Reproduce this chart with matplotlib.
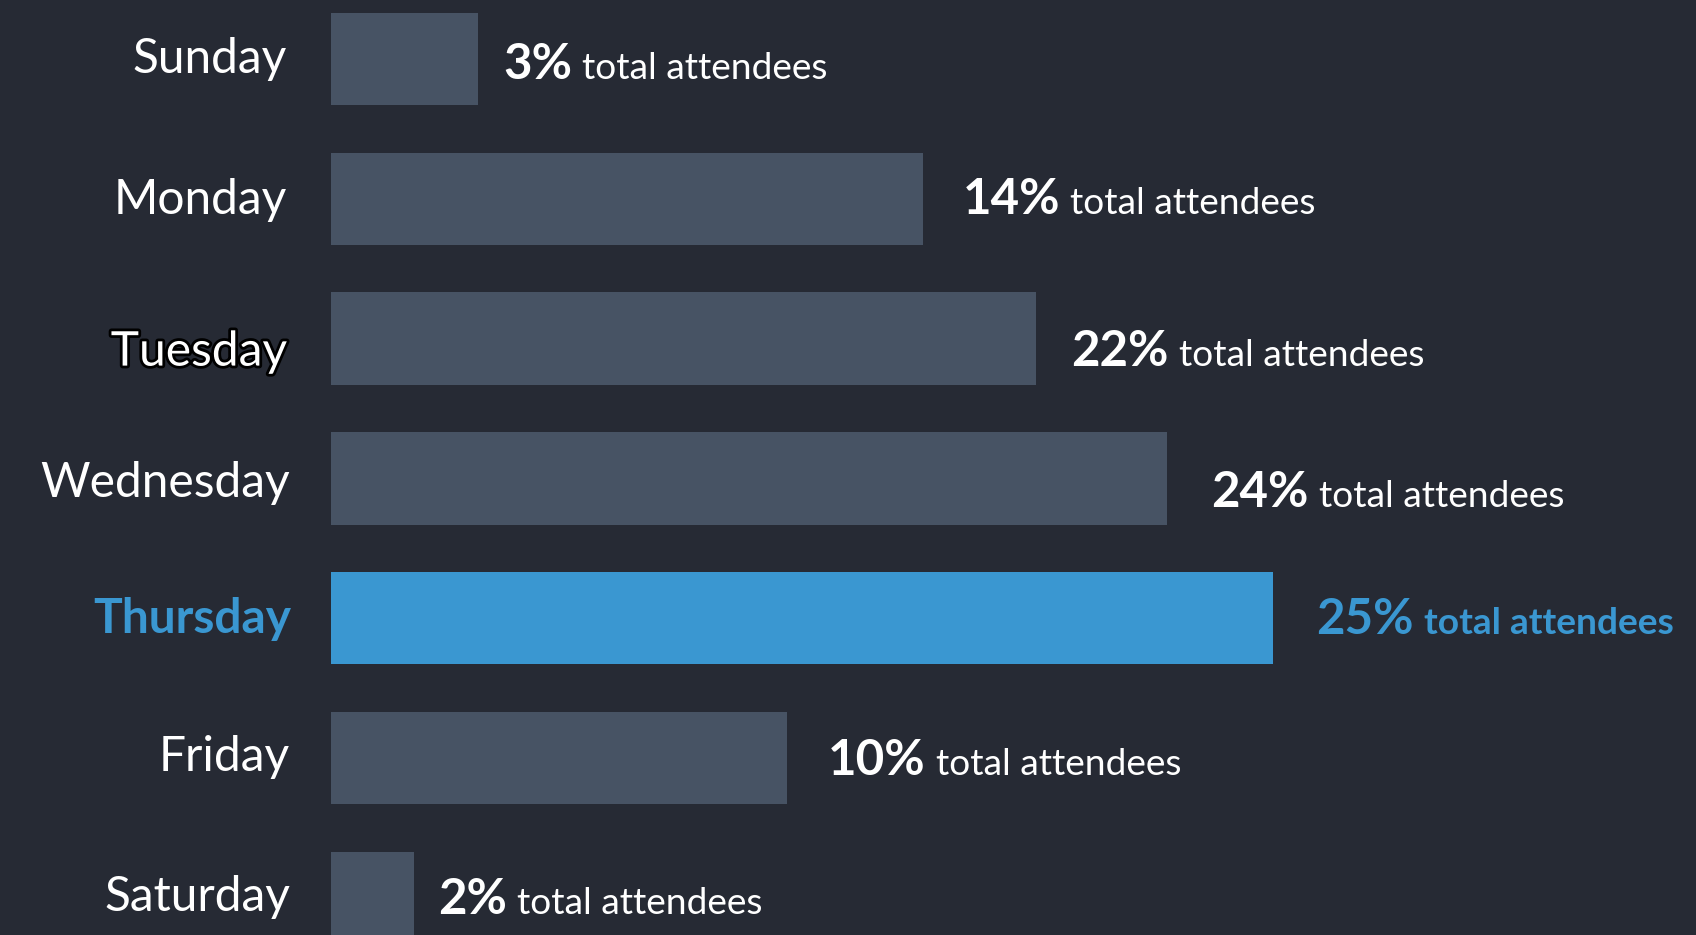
import matplotlib
matplotlib.use("Agg")
import matplotlib.pyplot as plt
import matplotlib.patheffects as pe

days = ["Sunday", "Monday", "Tuesday", "Wednesday", "Thursday", "Friday", "Saturday"]
bar_values = [3.9, 15.7, 18.7, 22.2, 25.0, 12.1, 2.2]
pct_labels = ["3%", "14%", "22%", "24%", "25%", "10%", "2%"]
suffix = "total attendees"
highlight = "Thursday"
outlined = "Tuesday"

# layout tweaks per row (pixels)
day_gap_px = [44, 44, 44, 41, 40, 41, 41]
day_base_px = [14, 15, 27, 19, 15, 13, 13]
val_gap_px = [25, 40, 36, 44, 43, 41, 24]
val_base_px = [20, 15.7, 27.6, 28.1, 15.7, 16.8, 15.7]

BG = "#262a34"
BAR = "#475364"
BLUE = "#3a97d1"
W, H, DPI = 1696, 935, 100

plt.rcParams['font.family'] = ['Lato', 'DejaVu Sans']

fig = plt.figure(figsize=(W / DPI, H / DPI), dpi=DPI, facecolor=BG)
left_px = 331
ax = fig.add_axes([left_px / W, 0, 1 - left_px / W, 1])
ax.set_facecolor(BG)
for s in ax.spines.values():
    s.set_visible(False)
ax.set_xticks([])
ax.set_yticks([])

pitch_px = 139.8
top_center_px = 59
ax.set_xlim(0, (W - left_px) / (942 / 25.0))
ax.set_ylim((H - top_center_px) / pitch_px, -top_center_px / pitch_px)

colors = [BLUE if d == highlight else BAR for d in days]
ypos = list(range(len(days)))
ax.barh(ypos, bar_values, height=0.66, color=colors, align="center")

fig.canvas.draw()
renderer = fig.canvas.get_renderer()

px2pt = 72.0 / DPI
for i, (y, d, v, p) in enumerate(zip(ypos, days, bar_values, pct_labels)):
    is_hi = d == highlight
    col = BLUE if is_hi else "white"
    t = ax.annotate(d, xy=(0, y), xytext=(-day_gap_px[i] * px2pt, -day_base_px[i] * px2pt),
                    textcoords="offset points", ha="right", va="baseline", fontsize=34.5,
                    color=col, fontweight="bold" if is_hi else "normal")
    if d == outlined:
        t.set_path_effects([pe.Stroke(linewidth=4, foreground="black"), pe.Normal()])
    t1 = ax.annotate(p, xy=(v, y), xytext=(val_gap_px[i] * px2pt, -val_base_px[i] * px2pt),
                     textcoords="offset points", ha="left", va="baseline", fontsize=35.5,
                     color=col, fontweight="bold")
    bb = t1.get_window_extent(renderer)
    ax.annotate(suffix, xy=(v, y), xytext=((val_gap_px[i] + bb.width + 10) * px2pt, -val_base_px[i] * px2pt),
                textcoords="offset points", ha="left", va="baseline", fontsize=26.7,
                color=col, fontweight="bold" if is_hi else "normal")

fig.savefig("out.png", dpi=DPI, facecolor=BG)
